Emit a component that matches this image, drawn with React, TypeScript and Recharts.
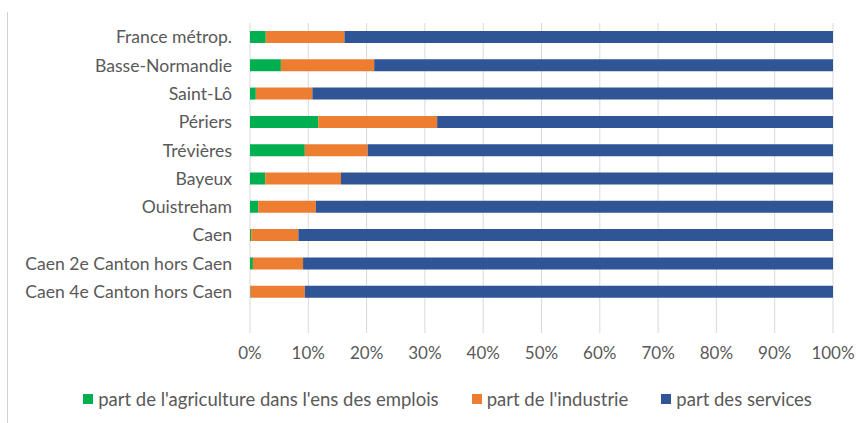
import React from 'react';
import { BarChart, Bar, XAxis, YAxis, CartesianGrid, Legend } from 'recharts';

const CATEGORIES = [
    'France métrop.',
    'Basse-Normandie',
    'Saint-Lô',
    'Périers',
    'Trévières',
    'Bayeux',
    'Ouistreham',
    'Caen',
    'Caen 2e Canton hors Caen',
    'Caen 4e Canton hors Caen',
];

// parts in % of total employment
const AGRICULTURE = [2.7, 5.3, 1.0, 11.7, 9.4, 2.6, 1.4, 0.2, 0.5, 0.1];
const INDUSTRIE = [13.5, 16.0, 9.7, 20.4, 10.8, 13.0, 9.9, 8.1, 8.6, 9.3];
const SERVICES = [83.8, 78.7, 89.3, 67.9, 79.8, 84.4, 88.7, 91.7, 90.9, 90.6];

const X_TICKS = [0, 10, 20, 30, 40, 50, 60, 70, 80, 90, 100];

const SERIES_NAMES = [
    "part de l'agriculture dans l'ens des emplois",
    "part de l'industrie",
    'part des services',
];
const COLORS = ['#00B050', '#ED7D31', '#2F5597'];

const FONT = 'Lato, "Open Sans", sans-serif';
const TEXT = '#595959';

const data = CATEGORIES.map((name, i) => ({
    name,
    agri: AGRICULTURE[i],
    indus: INDUSTRIE[i],
    serv: SERVICES[i],
}));

const LegendContent = ({ payload }: any) => (
    <div style={{ height: 48, display: 'flex', alignItems: 'center', justifyContent: 'center', gap: 33, paddingLeft: 62, fontFamily: FONT, fontSize: 18.5, color: TEXT }}>
        {(payload || []).map((p: any, i: number) => (
            <div key={i} style={{ display: 'flex', alignItems: 'center' }}>
                <span style={{ width: 10, height: 10, background: p.color, marginRight: 5, display: 'inline-block' }} />
                <span>{p.value}</span>
            </div>
        ))}
    </div>
);

export default function App() {
    return (
        <div style={{ position: 'absolute', left: 0, top: 0, width: 864, height: 423, background: '#fff', fontFamily: FONT }}>
            <div style={{ position: 'absolute', left: 7, top: 12, width: 1, height: 411, background: '#d0d0d0' }} />
            <BarChart
                width={864}
                height={423}
                data={data}
                layout="vertical"
                margin={{ top: 23, right: 31, bottom: 0, left: 0 }}
                barSize={12}
            >
                <CartesianGrid horizontal={false} stroke="#d9d9d9" />
                <XAxis
                    type="number"
                    domain={[0, 100]}
                    ticks={X_TICKS}
                    tickFormatter={(v) => `${v}%`}
                    axisLine={false}
                    tickLine={false}
                    tickMargin={8}
                    height={42}
                    tick={{ fill: TEXT, fontSize: 17, fontFamily: FONT }}
                />
                <YAxis
                    type="category"
                    dataKey="name"
                    width={250}
                    axisLine={false}
                    tickLine={false}
                    tickMargin={12}
                    padding={{ bottom: 27 }}
                    interval={0}
                    tick={{ fill: TEXT, fontSize: 17.6, fontFamily: FONT }}
                />
                <Legend verticalAlign="bottom" content={<LegendContent />} />
                <Bar dataKey="agri" name={SERIES_NAMES[0]} stackId="a" fill={COLORS[0]} isAnimationActive={false} />
                <Bar dataKey="indus" name={SERIES_NAMES[1]} stackId="a" fill={COLORS[1]} isAnimationActive={false} />
                <Bar dataKey="serv" name={SERIES_NAMES[2]} stackId="a" fill={COLORS[2]} isAnimationActive={false} />
            </BarChart>
        </div>
    );
}
